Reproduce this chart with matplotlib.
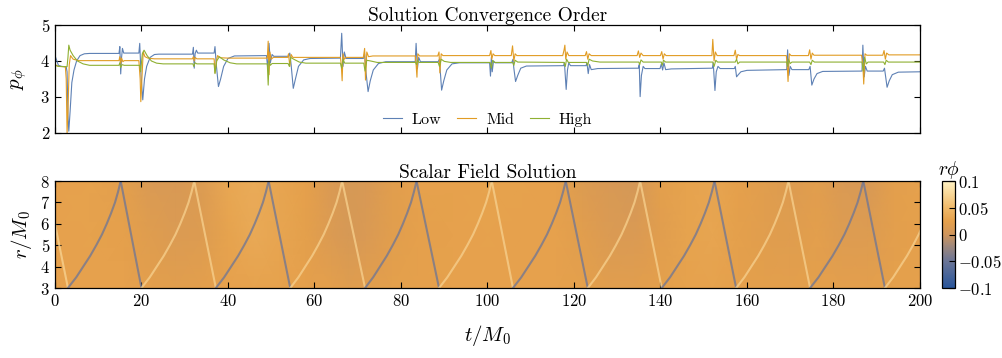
import numpy as np
import matplotlib
matplotlib.use('Agg')
import matplotlib.pyplot as plt
from matplotlib.colors import LinearSegmentedColormap, Normalize
from matplotlib.ticker import FixedFormatter

plt.rcParams['font.family'] = 'serif'
plt.rcParams['font.serif'] = ['cmr10']
plt.rcParams['mathtext.fontset'] = 'cm'
plt.rcParams['axes.formatter.use_mathtext'] = True

# convergence order p_phi, (t, p) vertices
low_pts = [(0, 4.15), (0.3, 4.05), (0.8, 3.88), (1.5, 3.85), (2.6, 3.84), (2.8, 3.7), (3.0, 2.5), (3.2, 2.05),
           (3.5, 2.6), (3.9, 3.4), (4.4, 3.75), (5.0, 4.0), (5.8, 4.15), (6.8, 4.2), (8, 4.21), (14.8, 4.21),
           (15.0, 4.4), (15.2, 3.64), (15.4, 4.1), (15.6, 4.35), (15.9, 4.22), (19.4, 4.22), (19.6, 4.49),
           (19.9, 3.6), (20.3, 2.92), (20.7, 3.5), (21.2, 3.85), (22.0, 4.1), (23, 4.18), (24, 4.19),
           (31.8, 4.19), (32.0, 4.38), (32.2, 3.8), (32.4, 4.2), (32.7, 4.3), (33.0, 4.22), (36.8, 4.22),
           (37.0, 4.4), (37.3, 3.9), (37.8, 3.29), (38.3, 3.5), (39.0, 3.85), (40.0, 4.07), (41.5, 4.14),
           (48.9, 4.15), (49.2, 3.8), (49.5, 4.49), (49.8, 3.95), (50.2, 4.18), (50.6, 4.13), (54.0, 4.13),
           (54.3, 4.22), (54.6, 3.9), (55.1, 3.24), (55.6, 3.5), (56.3, 3.85), (57.5, 4.03), (59, 4.07),
           (66.0, 4.08), (66.3, 4.77), (66.6, 3.85), (66.9, 4.25), (67.3, 4.07), (71.3, 4.07), (71.6, 4.2),
           (71.9, 3.7), (72.4, 3.15), (72.9, 3.45), (73.6, 3.75), (74.8, 3.93), (76.5, 3.98), (83.3, 3.98),
           (83.5, 4.49), (83.8, 3.78), (84.1, 4.1), (84.5, 3.98), (88.6, 3.98), (88.9, 4.05), (89.1, 3.7),
           (89.4, 3.19), (89.9, 3.45), (90.6, 3.75), (91.8, 3.92), (93.5, 3.95), (100.5, 3.95), (100.7, 3.58),
           (100.9, 4.1), (101.1, 3.7), (101.4, 4.0), (101.8, 3.95), (105.6, 3.95), (105.9, 4.05), (106.1, 3.8),
           (106.5, 3.43), (107.0, 3.6), (107.7, 3.8), (109, 3.86), (117.6, 3.87), (117.8, 3.95), (118.2, 3.21),
           (118.5, 3.75), (118.8, 3.95), (119.2, 3.87), (122.8, 3.87), (123.0, 3.95), (123.3, 3.65),
           (123.6, 3.9), (124.0, 3.76), (125.5, 3.79), (134.9, 3.8), (135.1, 3.9), (135.3, 3.01), (135.6, 3.6),
           (136.0, 3.85), (136.4, 3.79), (139.9, 3.79), (140.2, 3.92), (140.5, 3.75), (140.8, 3.95),
           (141.2, 3.76), (142.5, 3.78), (152.0, 3.8), (152.2, 3.95), (152.6, 3.18), (152.9, 3.7), (153.3, 3.85),
           (153.8, 3.79), (157.1, 3.79), (157.3, 3.85), (157.6, 3.56), (158.0, 3.62), (158.6, 3.7), (160, 3.74),
           (169.2, 3.76), (169.4, 4.31), (169.7, 3.6), (170.0, 3.85), (170.4, 3.76), (174.3, 3.76),
           (174.6, 3.85), (175.0, 3.33), (175.5, 3.5), (176.2, 3.65), (177.5, 3.71), (186.6, 3.72),
           (186.8, 4.44), (187.1, 3.56), (187.4, 3.85), (187.8, 3.72), (191.5, 3.72), (191.8, 3.8),
           (192.4, 3.27), (192.9, 3.45), (193.6, 3.62), (195, 3.69), (200, 3.7)]

mid_pts = [(0, 3.9), (0.8, 3.85), (2.4, 3.84), (2.6, 3.5), (2.8, 2.0), (3.0, 2.6), (3.3, 3.9), (3.6, 4.15),
           (4.2, 4.05), (5.5, 4.01), (14.8, 4.01), (15.0, 4.12), (15.2, 3.92), (15.4, 4.08), (15.7, 3.98),
           (16, 4.01), (19.4, 4.01), (19.7, 3.5), (19.85, 2.87), (20.1, 3.5), (20.4, 4.25), (20.8, 4.12),
           (21.5, 4.08), (23, 4.06), (31.8, 4.06), (32.0, 4.12), (32.2, 4.0), (32.4, 4.1), (32.8, 4.06),
           (36.8, 4.06), (37.0, 3.67), (37.3, 4.0), (37.6, 4.15), (38.2, 4.09), (40, 4.08), (49.1, 4.08),
           (49.3, 4.55), (49.5, 3.62), (49.7, 4.25), (50.0, 4.05), (50.5, 4.1), (53.8, 4.1), (54.0, 4.2),
           (54.3, 3.85), (54.6, 4.18), (55.0, 4.1), (66.0, 4.1), (66.2, 3.9), (66.4, 3.45), (66.6, 4.2),
           (66.9, 4.05), (67.3, 4.1), (71.3, 4.1), (71.6, 4.35), (71.8, 3.47), (72.1, 4.25), (72.5, 4.12),
           (73.5, 4.14), (83.3, 4.14), (83.5, 3.9), (83.7, 3.55), (83.9, 4.2), (84.3, 4.14), (88.5, 4.14),
           (88.8, 4.25), (89.0, 3.67), (89.3, 4.2), (89.7, 4.15), (100.5, 4.15), (100.8, 4.29), (101.0, 4.05),
           (101.3, 4.2), (101.7, 4.15), (105.5, 4.15), (105.8, 4.42), (106.1, 4.0), (106.4, 4.2), (106.8, 4.15),
           (117.4, 4.15), (117.7, 4.3), (117.9, 4.44), (118.1, 4.05), (118.4, 4.25), (118.8, 4.15),
           (122.6, 4.15), (122.9, 4.26), (123.2, 4.05), (123.5, 4.2), (124, 4.15), (134.6, 4.15), (134.9, 4.28),
           (135.2, 4.1), (135.5, 4.22), (136, 4.15), (140.0, 4.15), (140.3, 4.26), (140.6, 4.05), (140.9, 4.2),
           (141.3, 4.15), (151.9, 4.15), (152.1, 4.6), (152.4, 4.0), (152.7, 4.25), (153.1, 4.15),
           (157.0, 4.15), (157.3, 4.3), (157.6, 4.05), (157.9, 4.18), (158.3, 4.15), (169.1, 4.15),
           (169.3, 3.9), (169.5, 3.43), (169.8, 4.2), (170.2, 4.15), (174.2, 4.15), (174.5, 4.31),
           (174.8, 4.05), (175.1, 4.22), (175.5, 4.16), (186.5, 4.16), (186.8, 3.9), (187.0, 3.36),
           (187.3, 4.2), (187.7, 4.16), (191.4, 4.16), (191.7, 4.29), (192.0, 4.05), (192.3, 4.22),
           (192.8, 4.17), (200, 4.17)]

high_pts = [(0, 3.88), (0.8, 3.85), (2.8, 3.84), (3.0, 4.1), (3.2, 4.44), (3.5, 4.3), (4.2, 4.15), (5.2, 4.0),
            (6.5, 3.92), (8, 3.88), (14.8, 3.88), (15.0, 3.95), (15.2, 3.82), (15.5, 3.9), (16, 3.88),
            (19.6, 3.88), (19.8, 3.7), (20.2, 4.2), (20.6, 4.3), (21.3, 4.15), (22.3, 4.0), (23.5, 3.94),
            (25, 3.92), (31.9, 3.92), (32.1, 3.85), (32.4, 3.95), (32.8, 3.92), (36.8, 3.92), (37.0, 3.65),
            (37.4, 4.0), (38.0, 4.12), (39.0, 4.03), (40.5, 3.95), (42, 3.92), (49.1, 3.92), (49.3, 3.33),
            (49.5, 4.0), (49.8, 3.88), (50.2, 3.93), (53.9, 3.93), (54.2, 3.85), (54.5, 4.1), (55.2, 4.05),
            (56.5, 3.97), (58, 3.94), (66.0, 3.94), (66.3, 3.8), (66.6, 4.05), (67.0, 3.94), (71.4, 3.94),
            (71.7, 3.72), (72.1, 4.02), (73.0, 4.0), (74.5, 3.96), (83.4, 3.96), (83.6, 3.9), (83.8, 4.02),
            (84.2, 3.96), (88.6, 3.96), (88.9, 3.85), (89.3, 4.05), (90.0, 3.99), (91.5, 3.96), (100.6, 3.96),
            (100.9, 3.8), (101.2, 4.02), (101.6, 3.96), (105.8, 3.96), (106.1, 3.88), (106.4, 4.02),
            (107, 3.97), (117.7, 3.96), (118.0, 3.85), (118.3, 4.05), (118.7, 3.96), (122.9, 3.96),
            (123.2, 3.88), (123.5, 4.05), (124.3, 4.0), (126, 3.97), (135.0, 3.97), (135.2, 3.9), (135.5, 4.03),
            (136, 3.97), (140.2, 3.97), (140.4, 3.88), (140.7, 4.02), (141.2, 3.97), (152.1, 3.97),
            (152.4, 3.85), (152.8, 4.02), (153.2, 3.97), (157.3, 3.97), (157.6, 4.05), (157.9, 3.92),
            (158.3, 3.97), (169.2, 3.97), (169.4, 3.85), (169.6, 4.05), (170.0, 3.93), (170.4, 3.97),
            (174.5, 3.97), (174.8, 3.9), (175.1, 4.02), (175.6, 3.97), (186.6, 3.97), (186.9, 3.72),
            (187.2, 4.1), (187.6, 3.92), (188, 3.97), (191.6, 3.97), (191.9, 3.9), (192.2, 4.02),
            (192.7, 3.97), (200, 3.97)]

series_names = ['Low', 'Mid', 'High']
series_colors = ['#5E81B5', '#E19C24', '#8FB032']

# scalar field: smooth background r*phi on a coarse grid
bg_t = [0, 8, 16, 22, 28, 34, 40, 46, 52, 58, 64, 68, 72, 78, 84, 92, 100, 108, 116, 122, 128, 134,
        140, 146, 152, 158, 164, 170, 176, 182, 188, 194, 200]
bg_r = [3, 5.5, 8]
bg_r3 = [0.026, 0.026, 0.026, 0.022, 0.020, 0.022, 0.026, 0.028, 0.027, 0.025, 0.022, 0.018, 0.020,
         0.024, 0.025, 0.026, 0.026, 0.026, 0.026, 0.024, 0.020, 0.020, 0.024, 0.027, 0.028, 0.025,
         0.023, 0.022, 0.024, 0.022, 0.022, 0.024, 0.025]
bg_r55 = [0.026, 0.027, 0.025, 0.018, 0.014, 0.016, 0.028, 0.034, 0.030, 0.024, 0.014, 0.008, 0.012,
          0.020, 0.025, 0.026, 0.027, 0.026, 0.026, 0.020, 0.014, 0.012, 0.020, 0.028, 0.030, 0.024,
          0.020, 0.018, 0.022, 0.016, 0.016, 0.022, 0.025]
bg_r8 = [0.026, 0.027, 0.022, 0.012, 0.010, 0.015, 0.032, 0.036, 0.030, 0.025, 0.012, 0.008, 0.010,
         0.020, 0.026, 0.026, 0.028, 0.027, 0.026, 0.015, 0.010, 0.006, 0.022, 0.028, 0.030, 0.025,
         0.020, 0.016, 0.020, 0.012, 0.010, 0.022, 0.026]

# pulse reflections: times at inner (r=3) and outer (r=8) boundary
r3_times = [3.0, 20.0, 37.2, 54.4, 71.7, 88.8, 105.9, 123.2, 140.3, 157.5, 174.6, 191.9]
r8_times = [15.2, 32.2, 49.4, 66.4, 83.6, 101.0, 118.1, 135.3, 152.5, 169.6, 186.9]
start_r = 6.0
rise_r = [3, 3.5, 4, 4.5, 5, 5.5, 6, 6.5, 7, 7.5, 8]
rise_dt = [0, 1.9, 3.5, 5.1, 6.5, 7.8, 8.9, 9.9, 10.8, 11.5, 12.1]
pulse_dark = -0.045
pulse_light = 0.068

cmap = LinearSegmentedColormap.from_list('field', [
    (0.0, '#28559b'), (0.25, '#6b7597'), (0.4, '#a2897a'), (0.5, '#cf955c'),
    (0.625, '#e5a04b'), (0.75, '#f0b969'), (1.0, '#fff2c3')])
norm = Normalize(-0.1, 0.1)

fig = plt.figure(figsize=(10.03, 3.58), dpi=100)
ax1 = fig.add_axes([0.0548, 0.6285, 0.8624, 0.3017])
ax2 = fig.add_axes([0.0548, 0.1955, 0.8624, 0.2989])
cax = fig.add_axes([0.9392, 0.1955, 0.013, 0.2989])

for pts, name, col in zip([low_pts, mid_pts, high_pts], series_names, series_colors):
    t, p = zip(*pts)
    ax1.plot(t, p, color=col, lw=0.8, label=name)

ax1.set_xlim(0, 200)
ax1.set_ylim(2, 5)
ax1.set_xticks(range(0, 201, 20))
ax1.set_yticks([2, 3, 4, 5])
ax1.tick_params(labelbottom=False)
ax1.set_ylabel(r'$p_\phi$', fontsize=15, labelpad=8)
ax1.set_title('Solution Convergence Order', fontsize=14, pad=2)
ax1.legend(loc='lower center', ncol=3, frameon=False, fontsize=11.5, handlelength=1.2,
           columnspacing=1.0, handletextpad=0.6, borderaxespad=0.0)

T, R = np.meshgrid(bg_t, bg_r)
Z = np.array([bg_r3, bg_r55, bg_r8])
mesh = ax2.pcolormesh(T, R, Z, cmap=cmap, norm=norm, shading='gouraud', rasterized=True)

# pulse paths
dark_c = cmap(norm(pulse_dark))
light_c = cmap(norm(pulse_light))
lw_p = 1.5
ax2.plot([0, r3_times[0]], [start_r, 3], color=light_c, lw=lw_p, alpha=0.85)
for i, tb in enumerate(r3_times):
    col = dark_c if i % 2 == 0 else light_c
    if i < len(r8_times):
        scale = (r8_times[i] - tb) / rise_dt[-1]
    else:
        scale = 1.0
    ax2.plot([tb + scale * d for d in rise_dt], rise_r, color=col, lw=lw_p, alpha=0.8)
    if i < len(r8_times):
        ax2.plot([r8_times[i], r3_times[i + 1]], [8, 3], color=col, lw=lw_p, alpha=0.8)

ax2.set_xlim(0, 200)
ax2.set_ylim(3, 8)
ax2.set_xticks(range(0, 201, 20))
ax2.set_yticks([3, 4, 5, 6, 7, 8])
ax2.set_ylabel(r'$r/M_0$', fontsize=15, labelpad=4)
ax2.set_xlabel(r'$t/M_0$', fontsize=15, labelpad=10)
ax2.set_title('Scalar Field Solution', fontsize=14, pad=2)

for ax in (ax1, ax2):
    ax.tick_params(direction='in', top=True, right=True, length=4, width=0.8, labelsize=12)
    for s in ax.spines.values():
        s.set_linewidth(0.9)

cb = fig.colorbar(mesh, cax=cax, ticks=[-0.1, -0.05, 0, 0.05, 0.1])
cb.ax.yaxis.set_major_formatter(FixedFormatter(['$-0.1$', '$-0.05$', '$0$', '$0.05$', '$0.1$']))
cb.ax.tick_params(direction='in', length=4, width=0.8, labelsize=12, pad=2)
cb.outline.set_linewidth(0.9)
cax.set_title(r'$r\phi$', fontsize=14, pad=4)

fig.savefig('out.png', dpi=100)
